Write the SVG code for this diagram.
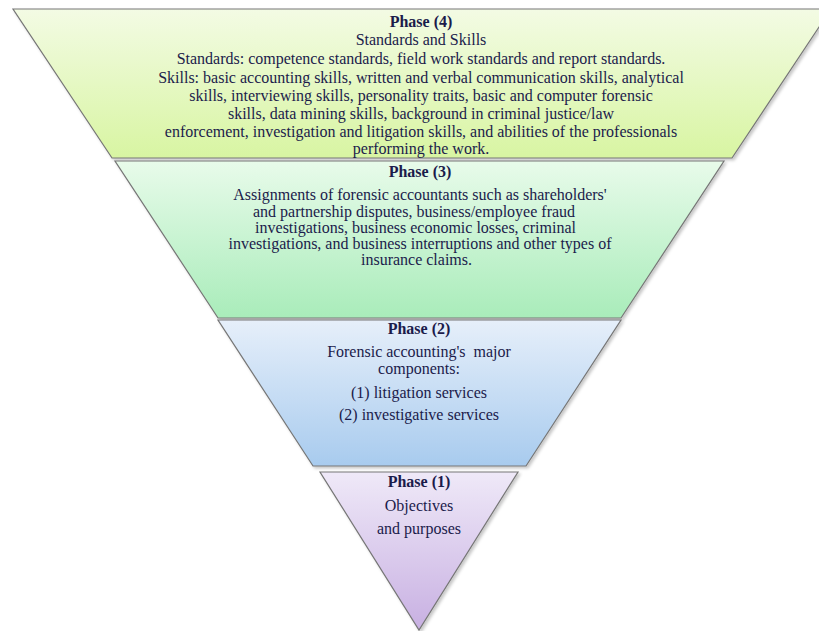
<svg xmlns="http://www.w3.org/2000/svg" width="819" height="631" viewBox="0 0 819 631">
<defs>
<linearGradient id="g4" x1="0" y1="0" x2="0" y2="1"><stop offset="0" stop-color="#f3fbe4"/><stop offset="1" stop-color="#d8f5a2"/></linearGradient>
<linearGradient id="g3" x1="0" y1="0" x2="0" y2="1"><stop offset="0" stop-color="#e8fbea"/><stop offset="1" stop-color="#a9ecba"/></linearGradient>
<linearGradient id="g2" x1="0" y1="0" x2="0" y2="1"><stop offset="0" stop-color="#e6effa"/><stop offset="1" stop-color="#a8cbee"/></linearGradient>
<linearGradient id="g1" x1="0" y1="0" x2="0" y2="1"><stop offset="0" stop-color="#efe9f8"/><stop offset="1" stop-color="#c8b0e2"/></linearGradient>
<filter id="sh" x="-5%" y="-5%" width="110%" height="115%"><feDropShadow dx="2" dy="2" stdDeviation="1.5" flood-color="#000" flood-opacity="0.22"/></filter>
</defs>
<style>
.band{stroke:#767676;stroke-width:1.2;filter:url(#sh)}
text{font-family:"Liberation Serif","Times New Roman",serif;font-size:16px;fill:#1b1b4b;text-anchor:middle}
.h{font-weight:bold}
</style>
<g id="phase4">
<polygon class="band" points="13,9 831,9 732,158 112,158" fill="url(#g4)"/>
<text x="421" y="27" class="h">Phase (4)</text>
<text x="421" y="45">Standards and Skills</text>
<text x="421" y="64">Standards: competence standards, field work standards and report standards.</text>
<text x="421" y="82.5">Skills: basic accounting skills, written and verbal communication skills, analytical</text>
<text x="421" y="100.5">skills, interviewing skills, personality traits, basic and computer forensic</text>
<text x="421" y="118.5">skills, data mining skills, background in criminal justice/law</text>
<text x="421" y="136.5">enforcement, investigation and litigation skills, and abilities of the professionals</text>
<text x="421" y="154">performing the work.</text>
</g>
<g id="phase3">
<polygon class="band" points="115,161 724,161 621,318 218,318" fill="url(#g3)"/>
<text x="420" y="177" class="h">Phase (3)</text>
<text x="420" y="200">Assignments of forensic accountants such as shareholders'</text>
<text x="414" y="216.5">and partnership disputes, business/employee fraud</text>
<text x="415.5" y="233">investigations, business economic losses, criminal</text>
<text x="420" y="249">investigations, and business interruptions and other types of</text>
<text x="416.5" y="265">insurance claims.</text>
</g>
<g id="phase2">
<polygon class="band" points="218,320 621,320 526,466 313,466" fill="url(#g2)"/>
<text x="419" y="334" class="h">Phase (2)</text>
<text x="419" y="357" xml:space="preserve">Forensic accounting's  major</text>
<text x="419" y="373.5">components:</text>
<text x="419" y="397.5">(1) litigation services</text>
<text x="419" y="420">(2) investigative services</text>
</g>
<g id="phase1">
<polygon class="band" points="320,472 518,472 419,630" fill="url(#g1)"/>
<text x="419" y="487" class="h">Phase (1)</text>
<text x="419" y="511">Objectives</text>
<text x="419" y="534">and purposes</text>
</g>
<g id="connectors"/>
</svg>
